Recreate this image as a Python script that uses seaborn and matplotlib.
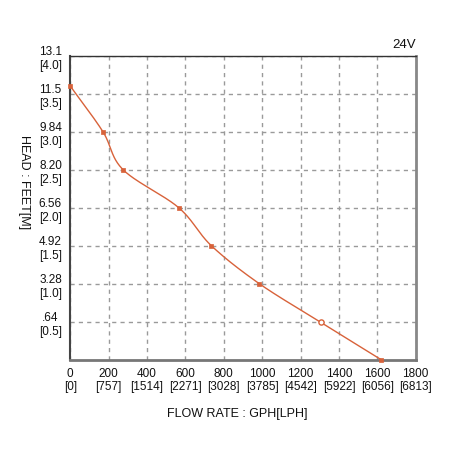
import numpy as np
import pandas as pd
import matplotlib
matplotlib.use("Agg")
import matplotlib.pyplot as plt
import seaborn as sns

# ---- data ----
flow_gph = [0, 170, 275, 565, 735, 985, 1300, 1620]
head_m = [3.6, 3.0, 2.5, 2.0, 1.5, 1.0, 0.5, 0.0]
open_point_index = 6

x_ticks = [0, 200, 400, 600, 800, 1000, 1200, 1400, 1600, 1800]
x_tick_lph = ["0", "757", "1514", "2271", "3028", "3785", "4542", "5922", "6056", "6813"]
y_ticks = [0.5, 1.0, 1.5, 2.0, 2.5, 3.0, 3.5, 4.0]
y_tick_feet = [".64", "3.28", "4.92", "6.56", "8.20", "9.84", "11.5", "13.1"]

LINE = "#d8623a"

sns.set_theme(style="white")
plt.rcParams["font.family"] = ["Liberation Sans", "DejaVu Sans"]


def catmull_rom(xs, ys, sx, sy, n=40):
    P = np.column_stack([np.asarray(xs, float) / sx, np.asarray(ys, float) / sy])
    P = np.vstack([2 * P[0] - P[1], P, 2 * P[-1] - P[-2]])
    out = []
    t = np.linspace(0, 1, n)[:, None]
    for i in range(1, len(P) - 2):
        p0, p1, p2, p3 = P[i - 1], P[i], P[i + 1], P[i + 2]
        C = 0.5 * ((2 * p1) + (-p0 + p2) * t + (2 * p0 - 5 * p1 + 4 * p2 - p3) * t ** 2
                   + (-p0 + 3 * p1 - 3 * p2 + p3) * t ** 3)
        out.append(C if i == 1 else C[1:])
    C = np.vstack(out)
    return C[:, 0] * sx, C[:, 1] * sy


fig = plt.figure(figsize=(4.52, 4.52), dpi=100)
ax = fig.add_axes([0.1555, 0.202, 0.7642, 0.6726])

cx, cy = catmull_rom(flow_gph, head_m, 200, 0.5)
curve = pd.DataFrame({"x": cx, "y": cy})
sns.lineplot(data=curve, x="x", y="y", sort=False, color=LINE, lw=1.0, ax=ax)

pts = pd.DataFrame({"x": flow_gph, "y": head_m})
filled = pts.drop(index=open_point_index)
sns.scatterplot(data=filled, x="x", y="y", marker="s", s=11, color=LINE,
                edgecolor=LINE, linewidth=0.5, ax=ax, zorder=5, clip_on=False)
op = pts.loc[[open_point_index]]
ax.scatter(op["x"] + 5, op["y"], marker="o", s=14, facecolor="white",
           edgecolor=LINE, linewidth=1.0, zorder=5)

ax.set_xlim(0, 1800)
ax.set_ylim(0, 4.0)
ax.set_xticks(x_ticks)
ax.set_xticklabels([f"{g}\n[{l}]" for g, l in zip(x_ticks, x_tick_lph)],
                   fontsize=8.5, color="#111111", multialignment="center",
                   linespacing=1.15)
ax.set_yticks(y_ticks)
ax.set_yticklabels([f"{f}\n[{m:.1f}]" for f, m in zip(y_tick_feet, y_ticks)],
                   fontsize=8.5, color="#111111", multialignment="center",
                   linespacing=1.15)
ax.tick_params(axis="both", length=0)
ax.tick_params(axis="x", pad=5)
ax.tick_params(axis="y", pad=6)

ax.grid(True, color="#9a9a9a", linestyle=(0, (3, 3)), linewidth=1.0)
ax.set_axisbelow(True)

ax.spines["left"].set_color("#444444")
ax.spines["left"].set_linewidth(1.5)
ax.spines["top"].set_color("#333333")
ax.spines["top"].set_linewidth(1.0)
ax.spines["right"].set_color("#888888")
ax.spines["right"].set_linewidth(2.0)
ax.spines["bottom"].set_color("#777777")
ax.spines["bottom"].set_linewidth(2.0)

ax.set_xlabel("FLOW RATE : GPH[LPH]", fontsize=9, color="#111111")
ax.xaxis.set_label_coords(0.483, -0.175)
ax.xaxis.label.set_va("center")
ax.set_ylabel("HEAD : FEET[M]", fontsize=9, color="#111111", rotation=-90)
ax.yaxis.set_label_coords(-0.134, 0.588)
ax.yaxis.label.set_va("center")

ax.text(1.0, 1.04, "24V", transform=ax.transAxes, ha="right", va="center",
        fontsize=9.5, color="#111111")

fig.savefig("out.png", dpi=100, facecolor="white")
